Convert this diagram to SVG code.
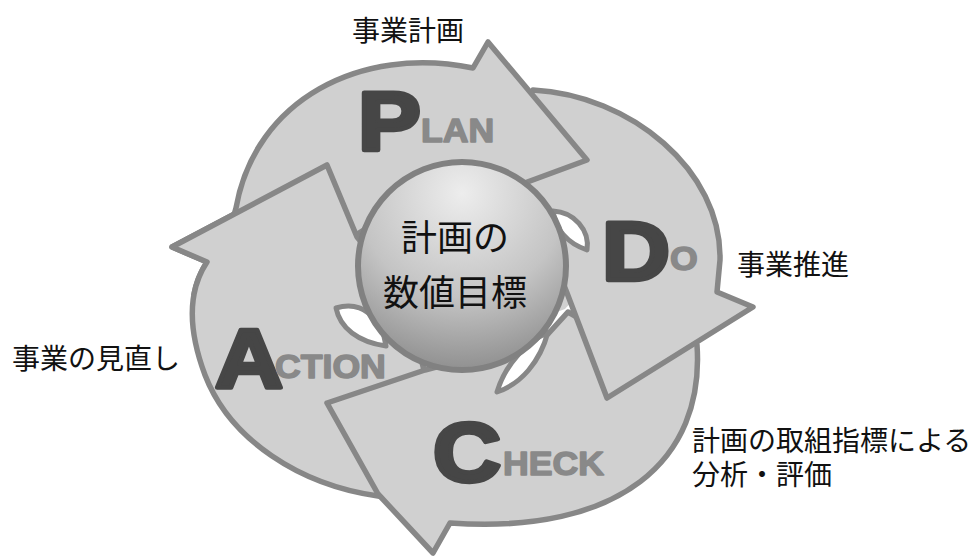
<svg xmlns="http://www.w3.org/2000/svg" width="979" height="556" viewBox="0 0 979 556">
  <defs>
    <style>
      .arw{fill:#d0d0d0;stroke:#878787;stroke-width:5.5;stroke-linejoin:round}
      .gap{fill:#ffffff;stroke:#878787;stroke-width:5;stroke-linejoin:round}
      .ball{fill:url(#ballShade);stroke:#818181;stroke-width:6}
      .big{font-family:"Liberation Sans",Arial,sans-serif;font-weight:bold;font-size:84px;fill:#464646;stroke:#464646;stroke-width:4.5;stroke-linejoin:round}
      .sm{font-family:"Liberation Sans",Arial,sans-serif;font-weight:bold;font-size:33px;fill:#898989;stroke:#898989;stroke-width:1.5;stroke-linejoin:round}
      .jp{font-family:"Noto Sans CJK JP","Noto Sans CJK SC",sans-serif;font-size:28px;fill:#111111}
      .core{font-family:"Noto Sans CJK JP","Noto Sans CJK SC",sans-serif;font-size:36px;fill:#111111;text-anchor:middle}
    </style>
    <radialGradient id="ballShade" cx="50%" cy="15%" r="100%">
      <stop offset="0" stop-color="#ededed"/>
      <stop offset="0.5" stop-color="#c4c4c4"/>
      <stop offset="1" stop-color="#7a7a7a"/>
    </radialGradient>
    <!-- curved arrow outlines; tails tuck under the previous arrowhead -->
    <path id="actionShape" d="M405,500 L378,496 C300,485 230,440 205,375 C190,335 185,295 207,262 L172,247 L327,165 L357,237 L378,262 L420,355 L432,400 Z"/>
    <clipPath id="actionHeadClip">
      <rect x="140" y="130" width="240" height="165"/>
    </clipPath>
  </defs>

  <g id="cycle">
    <g id="arrow-action">
      <use href="#actionShape" class="arw"/>
    </g>
    <g id="arrow-check">
      <path class="arw" d="M690,330 L697,345 C705,460 620,535 450,523 L433,553 L378,494 L327,403 L425,370 L470,358 L530,342 L548,334 L568,312 L600,330 Z"/>
      <!-- fill behind the do-arrow barb, above the check inner edge -->
      <polygon points="543,317 565,309 573,300 560,283" fill="#d0d0d0"/>
    </g>
    <g id="arrow-do">
      <path class="arw" d="M525,105 L533,90 C630,95 722,170 720,260 L717,292 L753,307 L607,398 L567,293 L552,255 L515,195 L520,140 Z"/>
    </g>
    <g id="arrow-plan">
      <path class="arw" d="M232,222 L236,208 C255,100 360,45 473,68 L488,42 L587,160 L500,192 Q420,185 335,250 Z"/>
    </g>
    <!-- the action head lies over the plan tail -->
    <use href="#actionShape" class="arw" clip-path="url(#actionHeadClip)"/>
  </g>

  <g id="gaps">
    <path class="gap" d="M553,211 C574,212 590,230 587,250 C570,244 556,232 553,211 Z"/>
    <path class="gap" d="M336,308 C362,300 382,318 386,346 C358,342 340,328 336,308 Z"/>
    <path class="gap" d="M548,332 C528,342 506,362 497,392 C521,384 540,362 548,332 Z"/>
  </g>

  <g id="center">
    <circle class="ball" cx="462" cy="266" r="104"/>
    <text class="core" x="455" y="251">計画の</text>
    <text class="core" x="455" y="306">数値目標</text>
  </g>

  <g id="letters">
    <text class="big" transform="translate(358,150) scale(1.12,1)">P</text>
    <text class="sm" transform="translate(421,142) scale(1.08,1)">LAN</text>
    <text class="big" transform="translate(602,280) scale(1.12,1)">D</text>
    <text class="sm" transform="translate(670,270) scale(1.08,1)">O</text>
    <text class="big" transform="translate(433,481) scale(1.12,1)">C</text>
    <text class="sm" transform="translate(503,475) scale(1.08,1)">HECK</text>
    <text class="big" transform="translate(215,388) scale(1.12,1)">A</text>
    <text class="sm" transform="translate(275,378) scale(1.08,1)">CTION</text>
  </g>

  <g id="labels">
    <text class="jp" x="352" y="41">事業計画</text>
    <text class="jp" x="737" y="275">事業推進</text>
    <text class="jp" x="12" y="369">事業の見直し</text>
    <text class="jp" x="692" y="451">計画の取組指標による<tspan x="692" dy="34">分析・評価</tspan></text>
  </g>
</svg>
